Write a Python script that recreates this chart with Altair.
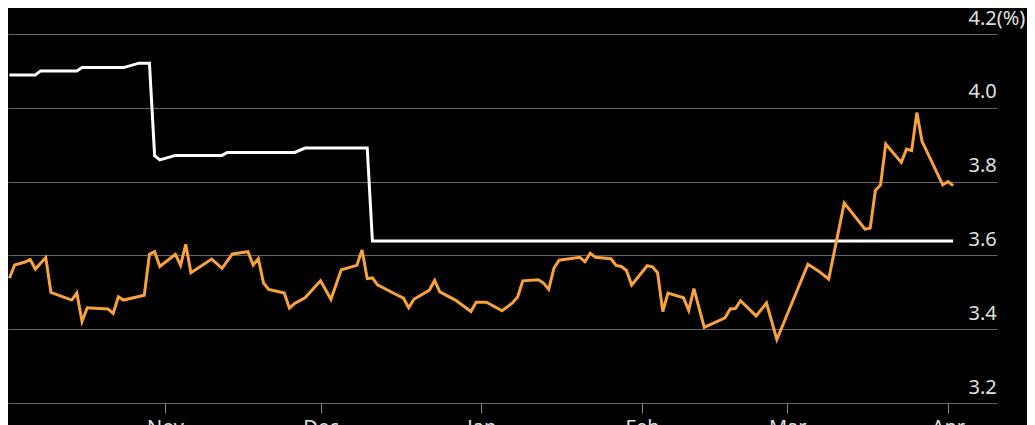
import altair as alt
import pandas as pd

# White step series (policy-style rate)
white_dates = ["2022-10-02", "2022-10-07", "2022-10-08", "2022-10-15", "2022-10-16",
               "2022-10-24", "2022-10-27", "2022-10-29", "2022-10-30", "2022-10-31",
               "2022-11-03", "2022-11-12", "2022-11-13", "2022-11-26", "2022-11-28",
               "2022-12-10", "2022-12-11", "2023-04-02"]
white_values = [4.089, 4.089, 4.100, 4.100, 4.109,
                4.109, 4.121, 4.121, 3.870, 3.859,
                3.871, 3.871, 3.879, 3.879, 3.891,
                3.891, 3.639, 3.639]

# Orange market series
orange_dates = [
    "2022-10-02", "2022-10-03", "2022-10-05", "2022-10-06", "2022-10-07", "2022-10-09",
    "2022-10-10", "2022-10-14", "2022-10-15", "2022-10-16", "2022-10-17", "2022-10-21",
    "2022-10-22", "2022-10-23", "2022-10-24", "2022-10-28", "2022-10-29", "2022-10-30",
    "2022-10-31", "2022-11-03", "2022-11-04", "2022-11-05", "2022-11-06", "2022-11-10",
    "2022-11-12", "2022-11-14", "2022-11-17", "2022-11-18", "2022-11-19", "2022-11-20",
    "2022-11-21", "2022-11-24", "2022-11-25", "2022-11-26", "2022-11-28", "2022-12-01",
    "2022-12-03", "2022-12-05", "2022-12-08", "2022-12-09", "2022-12-10", "2022-12-11",
    "2022-12-12", "2022-12-15", "2022-12-17", "2022-12-18", "2022-12-19", "2022-12-22",
    "2022-12-23", "2022-12-24", "2022-12-27", "2022-12-30", "2022-12-31", "2023-01-02",
    "2023-01-05", "2023-01-07", "2023-01-08", "2023-01-09", "2023-01-12", "2023-01-13",
    "2023-01-14", "2023-01-15", "2023-01-16", "2023-01-20", "2023-01-21", "2023-01-22",
    "2023-01-23", "2023-01-26", "2023-01-27", "2023-01-28", "2023-01-29", "2023-01-30",
    "2023-02-02", "2023-02-03", "2023-02-04", "2023-02-05", "2023-02-06", "2023-02-09",
    "2023-02-10", "2023-02-11", "2023-02-13", "2023-02-17", "2023-02-18", "2023-02-19",
    "2023-02-20", "2023-02-23", "2023-02-25", "2023-02-27", "2023-03-05", "2023-03-07",
    "2023-03-09", "2023-03-12", "2023-03-16", "2023-03-17", "2023-03-18", "2023-03-19",
    "2023-03-20", "2023-03-23", "2023-03-24", "2023-03-25", "2023-03-26", "2023-03-27",
    "2023-03-31", "2023-04-01", "2023-04-02"]
orange_values = [
    3.538, 3.574, 3.582, 3.589, 3.563, 3.594,
    3.500, 3.479, 3.498, 3.421, 3.458, 3.455,
    3.443, 3.488, 3.479, 3.492, 3.603, 3.610,
    3.570, 3.603, 3.573, 3.630, 3.553, 3.590,
    3.565, 3.604, 3.610, 3.574, 3.591, 3.525,
    3.508, 3.498, 3.457, 3.470, 3.485, 3.531,
    3.481, 3.561, 3.573, 3.615, 3.537, 3.539,
    3.520, 3.498, 3.484, 3.458, 3.481, 3.506,
    3.532, 3.501, 3.479, 3.448, 3.473, 3.473,
    3.450, 3.471, 3.487, 3.531, 3.534, 3.525,
    3.508, 3.565, 3.587, 3.595, 3.583, 3.606,
    3.595, 3.591, 3.573, 3.570, 3.559, 3.520,
    3.572, 3.569, 3.553, 3.448, 3.498, 3.485,
    3.451, 3.510, 3.405, 3.431, 3.455, 3.456,
    3.477, 3.436, 3.471, 3.372, 3.576, 3.558,
    3.536, 3.742, 3.671, 3.674, 3.776, 3.791,
    3.902, 3.852, 3.888, 3.884, 3.987, 3.909,
    3.791, 3.800, 3.789]

y_ticks = [3.2, 3.4, 3.6, 3.8, 4.0, 4.2]
month_ticks = [(2022, 11), (2022, 12), (2023, 1), (2023, 2), (2023, 3), (2023, 4)]

white_df = pd.DataFrame({"date": white_dates, "value": white_values})
orange_df = pd.DataFrame({"date": orange_dates, "value": orange_values})

x_domain = [alt.DateTime(year=2022, month=10, date=1, hours=17, minutes=17, utc=True),
            alt.DateTime(year=2023, month=4, date=10, hours=11, utc=True)]

x_enc = alt.X(
    "date:T",
    scale=alt.Scale(type="utc", domain=x_domain),
    axis=alt.Axis(
        values=[alt.DateTime(year=y, month=m, date=1, utc=True) for y, m in month_ticks],
        labelExpr="utcFormat(datum.value, '%b')",
        title=None, grid=False, domain=False,
        ticks=True, tickSize=10, tickColor="#8a8a8a", tickWidth=1,
        labelPadding=4, labelFontSize=20, labelColor="#e0e0e0",
        labelFont="Noto Sans", labelAlign="center", labelBaseline="top",
    ),
)

y_enc = alt.Y(
    "value:Q",
    scale=alt.Scale(domain=[3.2, 4.2], nice=False, zero=False),
    axis=alt.Axis(
        orient="right", values=y_ticks, format=".1f",
        labelExpr="datum.value > 4.19 ? datum.label + '(%)' : datum.label",
        title=None, domain=False, ticks=False, grid=True,
        gridColor="#666666", gridWidth=1.2,
        labelAlign="left", labelPadding=-29, labelBaseline="alphabetic",
        labelOffset=-10, labelFontSize=20, labelColor="#e0e0e0",
        labelFont="Noto Sans",
    ),
)

white_line = alt.Chart(white_df).mark_line(color="#ffffff", strokeWidth=3).encode(
    x=x_enc, y=y_enc
)
orange_line = alt.Chart(orange_df).mark_line(color="#f7a23b", strokeWidth=3).encode(
    x=x_enc, y=y_enc
)

chart = (
    alt.layer(white_line, orange_line)
    .properties(
        width=989,
        height=369,
        autosize=alt.AutoSizeParams(type="none"),
        padding={"left": 0, "top": 26, "right": 30, "bottom": 22},
        background="#000000",
    )
    .configure_view(stroke=None)
)

chart.save("out.html", embed_options={"renderer": "svg", "actions": False})
